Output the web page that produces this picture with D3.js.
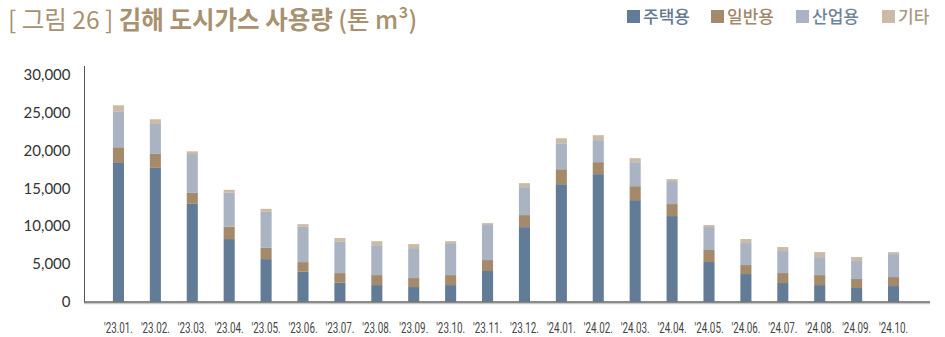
<!DOCTYPE html>
<html>
<head>
<meta charset="utf-8">
<script src="https://cdn.jsdelivr.net/npm/d3@7"></script>
<style>
  html, body { margin: 0; padding: 0; background: #fff; }
  svg { display: block; }
</style>
</head>
<body>
<svg id="chart" width="945" height="337"></svg>
<script>
// Monthly city gas usage in Gimhae (tonnes m³), stacked by use type
const months = ["'23.01.", "'23.02.", "'23.03.", "'23.04.", "'23.05.", "'23.06.", "'23.07.", "'23.08.",
  "'23.09.", "'23.10.", "'23.11.", "'23.12.", "'24.01.", "'24.02.", "'24.03.", "'24.04.",
  "'24.05.", "'24.06.", "'24.07.", "'24.08.", "'24.09.", "'24.10."];
const residential = [18460, 17710, 12950, 8290, 5640, 3960, 2510, 2200, 1940, 2200, 4060, 9870,
  15550, 16880, 13440, 11330, 5250, 3660, 2470, 2200, 1810, 2070];
const general = [1980, 1850, 1450, 1630, 1490, 1280, 1280, 1320, 1190, 1320, 1450, 1590,
  1980, 1590, 1850, 1590, 1590, 1190, 1320, 1320, 1190, 1190];
const industrial = [4760, 3960, 5150, 4490, 4760, 4670, 4140, 3960, 3960, 4230, 4630, 3700,
  3440, 2910, 3170, 3040, 3040, 2910, 2910, 2380, 2380, 3040];
const other = [790, 620, 350, 400, 400, 350, 490, 530, 530, 260, 260, 530,
  660, 660, 530, 260, 260, 530, 530, 660, 530, 260];
const yTicks = [0, 5000, 10000, 15000, 20000, 25000, 30000];
const seriesNames = ["주택용", "일반용", "산업용", "기타"];

const colors = ["#627c97", "#a48a6a", "#a9b3c2", "#cbbba6"];
const legendText = ["#5f7893", "#a08767", "#6f8399", "#a99883"];

const rows = months.map((m, i) => ({
  month: m,
  "주택용": residential[i],
  "일반용": general[i],
  "산업용": industrial[i],
  "기타": other[i]
}));

const svg = d3.select("#chart");

const x = d3.scaleBand().domain(months).range([100, 912]).paddingInner(0.7).paddingOuter(0.35);
const y = d3.scaleLinear().domain([0, 30000]).range([301.7, 75]);

const stack = d3.stack().keys(seriesNames)(rows);

// Stacked bars
svg.append("g")
  .selectAll("g")
  .data(stack)
  .join("g")
  .attr("fill", (d, i) => colors[i])
  .selectAll("rect")
  .data(d => d)
  .join("rect")
  .attr("x", d => x(d.data.month))
  .attr("width", x.bandwidth())
  .attr("y", d => y(d[1]))
  .attr("height", d => y(d[0]) - y(d[1]));

// Y axis
const yAxis = svg.append("g")
  .attr("transform", "translate(84.5,0)")
  .call(d3.axisLeft(y).tickValues(yTicks).tickSize(0).tickPadding(14).tickFormat(d3.format(",")));
yAxis.select(".domain").attr("stroke", "#555").attr("d", "M0,66V302");
yAxis.selectAll("text")
  .attr("font-family", "Lato, 'Noto Sans', sans-serif")
  .attr("font-size", 15)
  .attr("fill", "#333");

// Baseline with a soft shadow line beneath
svg.append("line").attr("x1", 84).attr("x2", 930).attr("y1", 303.5).attr("y2", 303.5)
  .attr("stroke", "#c8c8c8").attr("stroke-width", 1.5);
svg.append("line").attr("x1", 84).attr("x2", 930).attr("y1", 302).attr("y2", 302)
  .attr("stroke", "#666").attr("stroke-width", 1.5);

// X labels, horizontally condensed to a fixed width
const labelWidth = 29;
svg.append("g")
  .selectAll("text")
  .data(months)
  .join("text")
  .attr("text-anchor", "middle")
  .attr("font-family", "Roboto, 'Noto Sans', sans-serif")
  .attr("font-size", 15)
  .attr("fill", "#444")
  .text(d => d)
  .each(function(d) {
    const w = this.getComputedTextLength();
    const k = labelWidth / w;
    d3.select(this).attr("transform",
      `translate(${x(d) + x.bandwidth() / 2},333) scale(${k},1)`);
  });

// Title
const title = svg.append("text")
  .attr("x", 8)
  .attr("y", 29)
  .attr("font-family", "'Noto Sans CJK KR', sans-serif")
  .attr("font-size", 24.5)
  .attr("fill", "#a8916f");
title.append("tspan").attr("font-weight", 400).text("[ 그림 26 ] ");
title.append("tspan").attr("font-weight", 700).text("김해 도시가스 사용량 ");
title.append("tspan").attr("font-weight", 500).text("(톤 m³)");

// Legend
const legendX = [627, 711, 796, 882];
const legend = svg.append("g");
seriesNames.forEach((name, i) => {
  legend.append("rect")
    .attr("x", legendX[i]).attr("y", 10)
    .attr("width", 13).attr("height", 13)
    .attr("fill", colors[i]);
  legend.append("text")
    .attr("x", legendX[i] + 16).attr("y", 23)
    .attr("font-family", "'Noto Sans CJK KR', sans-serif")
    .attr("font-size", 17)
    .attr("font-weight", 500)
    .attr("fill", legendText[i])
    .text(name);
});
</script>
</body>
</html>
